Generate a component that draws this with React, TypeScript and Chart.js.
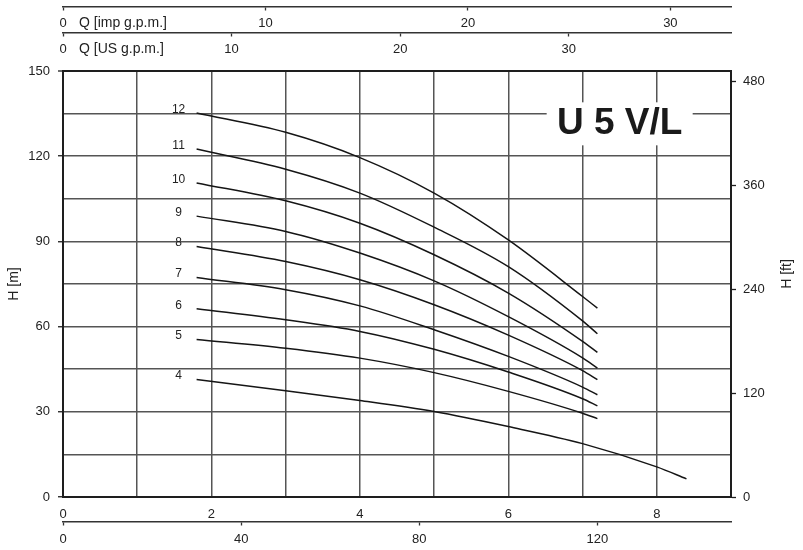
import React, { useEffect, useRef } from 'react';
import { Chart, registerables } from 'chart.js';

Chart.register(...registerables);

// ---------- data ----------
const curveNames = ['4', '5', '6', '7', '8', '9', '10', '11', '12'];

const qStd = [1.8, 3, 4, 5, 6, 7, 7.2];
const qLong = [1.8, 3, 4, 5, 6, 7, 8, 8.4];

const h4 = [41.4, 37.4, 34.0, 30.1, 24.8, 18.8, 10.6, 6.4];
const h5 = [55.5, 52.4, 48.9, 43.8, 37.2, 29.5, 27.6];
const h6 = [66.3, 62.4, 58.3, 52.0, 44.0, 34.6, 32.1];
const h7 = [77.3, 73.0, 67.3, 58.9, 49.5, 38.7, 36.0];
const h8 = [88.2, 82.9, 76.5, 67.7, 57.0, 44.5, 41.3];
const h9 = [98.9, 93.5, 85.9, 76.1, 63.5, 49.0, 45.4];
const h10 = [110.6, 104.3, 96.4, 85.3, 71.8, 54.8, 50.9];
const h11 = [122.5, 115.4, 107.0, 95.0, 81.1, 62.0, 57.5];
const h12 = [135.2, 128.4, 119.5, 107.0, 90.5, 70.6, 66.5];

const curveQ = [qLong, qStd, qStd, qStd, qStd, qStd, qStd, qStd, qStd];
const curveH = [h4, h5, h6, h7, h8, h9, h10, h11, h12];

// axis ranges / tick values
const Q_MAX = 9; // m3/h
const H_MAX = 150; // m
const Q_LABEL_STEP = 2;
const H_LABEL_STEP = 30;
const FT_TICKS = [0, 120, 240, 360, 480];
const IMP_TICKS = [0, 10, 20, 30];
const US_TICKS = [0, 10, 20, 30];
const LPM_TICKS = [0, 40, 80, 120];

// unit conversions
const M3H_PER_IMP_GPM = 0.272765;
const M3H_PER_US_GPM = 0.2271247;
const LPM_PER_M3H = 1000 / 60;
const FT_PER_M = 1 / 0.3048;

// secondary axis placements (in metres of head, outside the plot)
const IMP_POS = 172.5;
const US_POS = 163.5;
const LPM_POS = -8.7;

const MODEL = 'U 5 V/L';
const MODEL_Q = 7.5;
const MODEL_H = 131.4;

const FONT = "'Liberation Sans', Arial, Helvetica, sans-serif";
const TEXT = '#222';
const GRID = '#555';
const FRAME = '#1e1e1e';

const setTicks = (vals: number[]) => (s: any) => {
  s.ticks = vals.map((v) => ({ value: v }));
};

const annotate = {
  id: 'annotate',
  afterDraw(chart: any) {
    const ctx = chart.ctx as CanvasRenderingContext2D;
    const xs = chart.scales.x;
    const ys = chart.scales.y;
    const area = chart.chartArea;
    ctx.save();

    // curve labels
    ctx.font = `12px ${FONT}`;
    ctx.fillStyle = TEXT;
    ctx.textAlign = 'center';
    ctx.textBaseline = 'middle';
    chart.data.datasets.forEach((ds: any, i: number) => {
      const p = chart.getDatasetMeta(i).data[0];
      if (p) ctx.fillText(ds.label, p.x - 18, p.y - 3.5);
    });

    // model label with white box
    const mx = xs.getPixelForValue(MODEL_Q);
    const my = ys.getPixelForValue(MODEL_H);
    ctx.fillStyle = '#fff';
    ctx.fillRect(mx - 73, my - 21.5, 146, 43);
    ctx.fillStyle = '#1a1a1a';
    ctx.font = `bold 37px ${FONT}`;
    ctx.fillText(MODEL, mx, my);

    // top axis titles
    ctx.fillStyle = TEXT;
    ctx.font = `14px ${FONT}`;
    ctx.textAlign = 'left';
    ctx.textBaseline = 'alphabetic';
    const imp = chart.scales.ximp;
    const us = chart.scales.xus;
    ctx.fillText('Q [imp g.p.m.]', imp.getPixelForValue(0) + 16, ys.getPixelForValue(IMP_POS) + 20);
    ctx.fillText('Q [US g.p.m.]', us.getPixelForValue(0) + 16, ys.getPixelForValue(US_POS) + 20);

    // right axis title
    ctx.translate(787, (area.top + area.bottom) / 2 - 10);
    ctx.rotate(-Math.PI / 2);
    ctx.textAlign = 'center';
    ctx.textBaseline = 'middle';
    ctx.fillText('H [ft]', 0, 0);
    ctx.restore();
  },
};

const tickFont = { family: FONT, size: 13 };

const secondaryX = (pos: number, max: number, ticks: number[], padding: number) => ({
  type: 'linear',
  position: { y: pos },
  min: 0,
  max,
  afterBuildTicks: setTicks(ticks),
  ticks: { autoSkip: false, maxRotation: 0, padding, color: TEXT, font: tickFont },
  grid: { drawOnChartArea: false, tickLength: 3, tickColor: '#333', tickWidth: 1.3 },
  border: { display: true, color: '#333', width: 1.5 },
});

export default function App() {
  const canvasRef = useRef<HTMLCanvasElement | null>(null);

  useEffect(() => {
    const canvas = canvasRef.current;
    if (!canvas) return;
    const datasets = curveNames.map((name, i) => ({
      label: name,
      data: curveQ[i].map((q, j) => ({ x: q, y: curveH[i][j] })),
      borderColor: '#151515',
      borderWidth: 1.5,
      pointRadius: 0,
      fill: false,
      cubicInterpolationMode: 'monotone' as const,
      xAxisID: 'x',
      yAxisID: 'y',
    }));

    const chart = new Chart(canvas, {
      type: 'line',
      data: { datasets },
      plugins: [annotate],
      options: {
        animation: false,
        responsive: true,
        maintainAspectRatio: false,
        layout: { padding: { top: 71, left: 0, right: 0, bottom: 0 } },
        plugins: { legend: { display: false }, tooltip: { enabled: false } },
        scales: {
          x: {
            type: 'linear',
            position: 'bottom',
            min: 0,
            max: Q_MAX,
            afterFit: (s: any) => { s.height = 53; },
            ticks: {
              stepSize: 1,
              autoSkip: false,
              maxRotation: 0,
              includeBounds: false,
              padding: 9.5,
              color: TEXT,
              font: tickFont,
              callback: (v: any) => (Number(v) % Q_LABEL_STEP === 0 && Number(v) < Q_MAX ? String(v) : ''),
            },
            grid: {
              drawTicks: false,
              color: (c: any) => (c.tick && c.tick.value === Q_MAX ? FRAME : GRID),
              lineWidth: (c: any) => (c.tick && c.tick.value === Q_MAX ? 2 : 1.5),
            },
            border: { display: true, color: FRAME, width: 2 },
          },
          y: {
            type: 'linear',
            position: 'left',
            min: 0,
            max: H_MAX,
            afterFit: (s: any) => { s.width = 63; },
            ticks: {
              stepSize: 15,
              autoSkip: false,
              includeBounds: false,
              padding: 8,
              color: TEXT,
              font: tickFont,
              callback: (v: any) => (Number(v) % H_LABEL_STEP === 0 ? String(v) : ''),
            },
            grid: {
              tickLength: 5,
              color: (c: any) => (c.tick && c.tick.value === H_MAX ? FRAME : GRID),
              lineWidth: (c: any) => (c.tick && c.tick.value === H_MAX ? 2 : 1.5),
              tickColor: (c: any) => (c.tick && c.tick.value % H_LABEL_STEP === 0 ? FRAME : 'rgba(0,0,0,0)'),
              tickWidth: 1.3,
            },
            border: { display: true, color: FRAME, width: 2 },
            title: {
              display: true,
              text: 'H [m]',
              color: TEXT,
              font: { family: FONT, size: 14 },
              padding: { top: 5.5, bottom: 4 },
            },
          },
          yft: {
            type: 'linear',
            position: 'right',
            min: 0,
            max: H_MAX * FT_PER_M,
            afterFit: (s: any) => { s.width = 72; },
            afterBuildTicks: setTicks(FT_TICKS),
            ticks: { autoSkip: false, padding: 7, color: TEXT, font: tickFont },
            grid: { drawOnChartArea: false, tickLength: 5, tickColor: FRAME, tickWidth: 1.3 },
            border: { display: true, color: FRAME, width: 2 },
          },
          ximp: secondaryX(IMP_POS, Q_MAX / M3H_PER_IMP_GPM, IMP_TICKS, 6),
          xus: secondaryX(US_POS, Q_MAX / M3H_PER_US_GPM, US_TICKS, 6.4),
          xlpm: secondaryX(LPM_POS, Q_MAX * LPM_PER_M3H, LPM_TICKS, 7),
        } as any,
      },
    });
    return () => chart.destroy();
  }, []);

  return (
    <div style={{ position: 'fixed', left: 0, top: 0, width: 803, height: 550, background: '#fff' }}>
      <canvas ref={canvasRef} />
    </div>
  );
}
